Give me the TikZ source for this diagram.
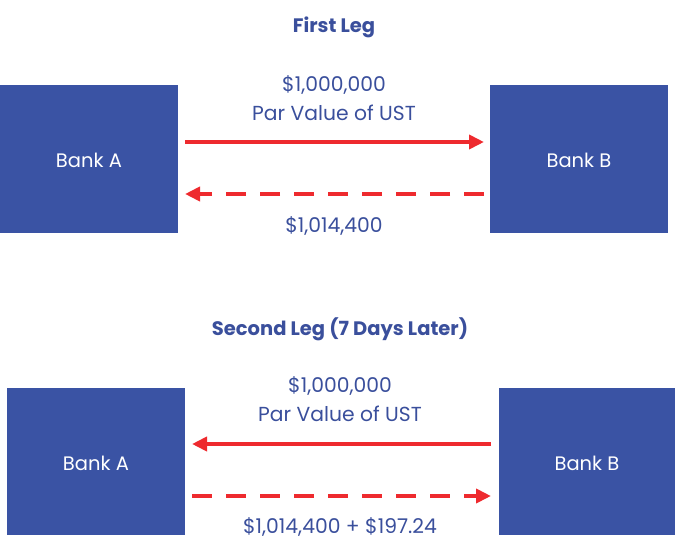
\documentclass[tikz,border=0pt]{standalone}
\usepackage{fontspec}
\setmainfont{Poppins}
\usetikzlibrary{arrows.meta}
\definecolor{boxblue}{HTML}{3A53A4}
\definecolor{txtblue}{HTML}{3A4F9C}
\definecolor{arrred}{HTML}{EE2A2E}
\tikzset{
  bank/.style={fill=none, draw=none, text=white, font=\fontsize{19.5}{22}\selectfont},
  lbl/.style={text=txtblue, font=\fontsize{20.3}{24}\selectfont, inner sep=0pt},
  ttl/.style={text=txtblue, font=\fontsize{19.5}{22}\selectfont\bfseries, inner sep=0pt},
  flow/.style={draw=arrred, line width=4.5pt, -{Triangle[length=15pt,width=14pt]}},
  dflow/.style={flow, dash pattern=on 20pt off 14pt},
}
\begin{document}
\begin{tikzpicture}[x=1pt,y=-1pt]
\useasboundingbox (0,0) rectangle (675,554);
% First leg
\node[ttl] (t1) at (334,27) {First Leg};
\fill[boxblue] (0,85) rectangle (178,233);
\node[bank] (a1) at (89,160) {Bank A};
\fill[boxblue] (490,85) rectangle (668,233);
\node[bank] (b1) at (579,160) {Bank B};
\coordinate (a1s) at (185,142);
\coordinate (b1s) at (484,142);
\coordinate (a1d) at (185,194);
\coordinate (b1d) at (484,194);
\draw[flow] (a1s) -- (b1s);
\draw[dflow] (b1d) -- (a1d);
\node[lbl] (m1) at (334,85) {\$1,000,000};
\node[lbl] (p1) at (334,113) {Par Value of UST};
\node[lbl] (c1) at (334,226) {\$1,014,400};
% Second leg
\node[ttl] (t2) at (340,329) {Second Leg (7 Days Later)};
\fill[boxblue] (7,388) rectangle (185,535);
\node[bank] (a2) at (96,463) {Bank A};
\fill[boxblue] (499,388) rectangle (675,535);
\node[bank] (b2) at (587,463) {Bank B};
\coordinate (a2s) at (192,444);
\coordinate (b2s) at (491,444);
\coordinate (a2d) at (192,496);
\coordinate (b2d) at (491,496);
\draw[flow] (b2s) -- (a2s);
\draw[dflow] (a2d) -- (b2d);
\node[lbl] (m2) at (340,386) {\$1,000,000};
\node[lbl] (p2) at (340,414) {Par Value of UST};
\node[lbl] (c2) at (340,527) {\$1,014,400 + \$197.24};
\end{tikzpicture}
\end{document}
